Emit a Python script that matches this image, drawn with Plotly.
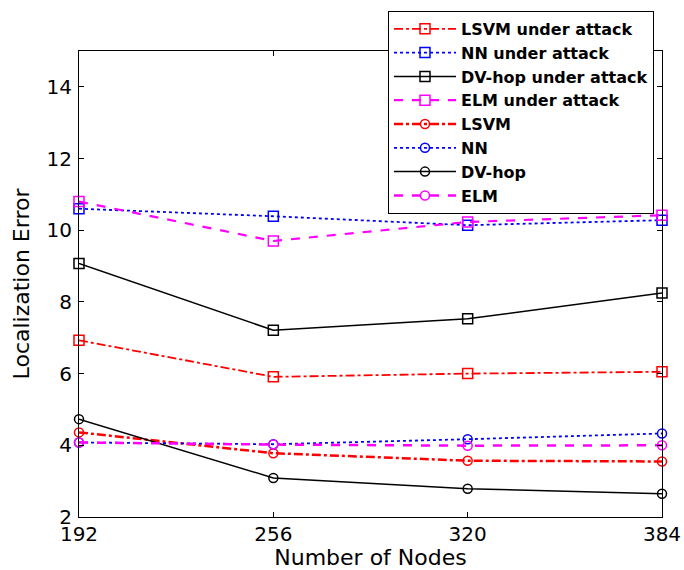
import plotly.graph_objects as go

nodes = [192, 256, 320, 384]
x_ticks = [192, 256, 320, 384]
y_ticks = [2, 4, 6, 8, 10, 12, 14]

lsvm_attack = [6.93, 5.91, 6.00, 6.05]
nn_attack = [10.60, 10.39, 10.14, 10.28]
dvhop_attack = [9.07, 7.21, 7.53, 8.25]
elm_attack = [10.80, 9.70, 10.23, 10.42]
lsvm = [4.36, 3.78, 3.57, 3.55]
nn = [4.08, 4.03, 4.17, 4.33]
dvhop = [4.73, 3.09, 2.79, 2.65]
elm = [4.08, 4.02, 3.99, 4.00]

series = [
    ("LSVM under attack", lsvm_attack, "#ff0000", "dashdot", 1.8, "square-open", 10),
    ("NN under attack", nn_attack, "#0000ff", "dot", 1.8, "square-open", 10),
    ("DV-hop under attack", dvhop_attack, "#000000", "solid", 1.5, "square-open", 10),
    ("ELM under attack", elm_attack, "#ff00ff", "dash", 2.2, "square-open", 10),
    ("LSVM", lsvm, "#ff0000", "dashdot", 2.5, "circle-open", 9),
    ("NN", nn, "#0000ff", "dot", 1.8, "circle-open", 9),
    ("DV-hop", dvhop, "#000000", "solid", 1.5, "circle-open", 9),
    ("ELM", elm, "#ff00ff", "dash", 2.5, "circle-open", 9),
]

fig = go.Figure()
for name, vals, color, dash, width, sym, size in series:
    fig.add_trace(go.Scatter(
        x=nodes, y=vals, name=name, mode="lines+markers",
        line=dict(color=color, dash=dash, width=width),
        marker=dict(symbol=sym, size=size, color=color, line=dict(width=1.5, color=color)),
        cliponaxis=False,
    ))

axis_common = dict(
    showline=True, linecolor="black", linewidth=1.2, mirror="ticks",
    ticks="inside", ticklen=5, tickcolor="black", showgrid=False, zeroline=False,
    tickfont=dict(family="DejaVu Sans", size=20, color="black"),
)

fig.update_xaxes(
    range=[192, 384], tickvals=x_ticks, ticktext=[str(v) for v in x_ticks],
    title=dict(text="Number of Nodes", font=dict(family="DejaVu Sans", size=22, color="black"), standoff=0),
    ticklabelstandoff=-1,
    **axis_common,
)
fig.update_yaxes(
    range=[2, 15], tickvals=y_ticks, ticktext=[str(v) for v in y_ticks],
    title=dict(text="Localization Error", font=dict(family="DejaVu Sans", size=22, color="black"), standoff=10),
    ticklabelstandoff=2,
    **axis_common,
)

fig.update_layout(
    width=684, height=570,
    margin=dict(l=79, r=22, t=51, b=53, autoexpand=False),
    paper_bgcolor="white", plot_bgcolor="white",
    font=dict(family="DejaVu Sans", color="black"),
    legend=dict(
        x=0.53, y=1.086, xanchor="left", yanchor="top",
        bgcolor="white", bordercolor="black", borderwidth=1,
        font=dict(family="DejaVu Sans", size=16, color="black", weight="bold"),
        itemwidth=62, tracegroupgap=0,
    ),
)

fig.write_html("out.html")
